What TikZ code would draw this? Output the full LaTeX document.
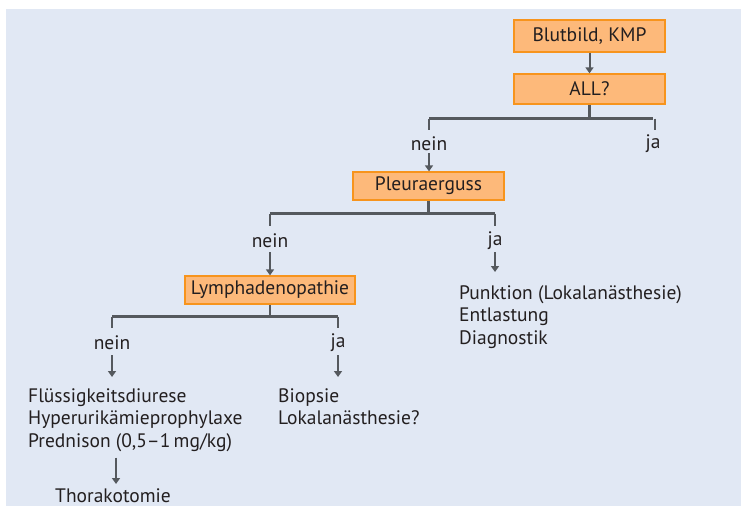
\documentclass[tikz,border=0pt]{standalone}
\usepackage{fontspec}
\setmainfont{PT Sans}
\usetikzlibrary{arrows.meta,calc}
\definecolor{bgc}{HTML}{E1E8F4}
\definecolor{boxfill}{HTML}{FDB97A}
\definecolor{boxdraw}{HTML}{F7941D}
\definecolor{linec}{HTML}{55595E}
\definecolor{textc}{HTML}{231F20}
\tikzset{
  decision/.style={draw=boxdraw, fill=boxfill, line width=1.3pt, minimum height=28pt, inner sep=0pt, text=textc, font=\fontsize{19.5}{22}\selectfont},
  lbl/.style={inner sep=0pt, text=textc, font=\fontsize{19.5}{22}\selectfont},
  txt/.style={inner sep=0pt, text=textc, align=left, font=\fontsize{19.5}{22.5}\selectfont, anchor=north west},
  conn/.style={draw=linec, line width=2.4pt},
  arr/.style={draw=linec, line width=2pt, -{Triangle[length=6pt,width=8pt]}}
}
\begin{document}
\begin{tikzpicture}[x=1pt,y=-1pt]
\useasboundingbox (0,0) rectangle (741,507);
\fill[bgc] (6,9) rectangle (741,506);
% boxes
\node[decision, minimum width=151pt, minimum height=32pt] (blut) at (589.5,36) {Blutbild, KMP};
\node[decision, minimum width=151pt, minimum height=30pt] (all) at (589.5,89) {ALL?};
\node[decision, minimum width=151pt] (pleura) at (428.5,186) {Pleuraerguss};
\node[decision, minimum width=170pt] (lymph) at (270,290) {Lymphadenopathie};
% labels
\node[lbl] (n1) at (429,144) {nein};
\node[lbl] (j1) at (653,144) {ja};
\node[lbl] (n2) at (270,241) {nein};
\node[lbl] (j2) at (495,241) {ja};
\node[lbl] (n3) at (112,343) {nein};
\node[lbl] (j3) at (338,343) {ja};
% text blocks
\node[txt] (punk) at (459,285) {Punktion (Lokalanästhesie)\\Entlastung\\Diagnostik};
\node[txt] (flu) at (28,388) {Flüssigkeitsdiurese\\Hyperurikämieprophylaxe\\Prednison (0,5–1\,mg/kg)};
\node[txt] (bio) at (278,388) {Biopsie\\Lokalanästhesie?};
\node[txt] (thor) at (55,488) {Thorakotomie};
% branch points
\coordinate (b1) at ($(all.south)+(0,14)$);
\coordinate (b2) at ($(pleura.south)+(0,13)$);
\coordinate (b3) at ($(lymph.south)+(0,12)$);
% connectors
\draw[arr] (blut.south) -- (all.north);
\draw[conn] (all.south) -- (b1);
\draw[conn] (b1 -| n1) -- (b1 -| j1);
\draw[conn] (b1 -| n1) -- ($(n1)+(0,-14)$);
\draw[conn] ($(b1 -| j1)+(2,0)$) -- ($(j1)+(2,-14)$);
\draw[arr] ($(n1)+(0,9)$) -- (pleura.north -| n1);
\draw[conn] (pleura.south) -- (b2);
\draw[conn] (b2 -| n2) -- (b2 -| j2);
\draw[conn] (b2 -| n2) -- ($(n2)+(0,-15)$);
\draw[conn] (b2 -| j2) -- ($(j2)+(0,-15)$);
\draw[arr] ($(n2)+(0,11)$) -- (lymph.north -| n2);
\draw[arr] ($(j2)+(0,11)$) -- ($(j2)+(0,31)$);
\draw[conn] (lymph.south) -- (b3);
\draw[conn] (b3 -| n3) -- (b3 -| j3);
\draw[conn] (b3 -| n3) -- ($(n3)+(0,-15)$);
\draw[conn] (b3 -| j3) -- ($(j3)+(0,-15)$);
\draw[arr] ($(n3)+(0,12)$) -- ($(n3)+(0,34)$);
\draw[arr] ($(j3)+(0,12)$) -- ($(j3)+(0,34)$);
\draw[arr] ($(flu.south west)+(88,6)$) -- ($(thor.north west)+(61,-4)$);
\end{tikzpicture}
\end{document}
